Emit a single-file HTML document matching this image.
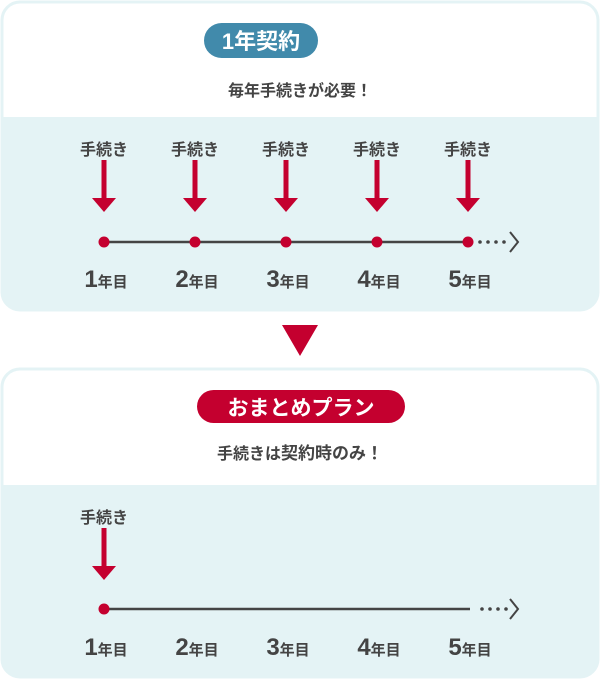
<!DOCTYPE html>
<html><head><meta charset="utf-8"><style>
html,body{margin:0;padding:0;background:#fff}
svg{display:block}
text{font-family:"Liberation Sans","Noto Sans CJK JP",sans-serif;font-weight:bold;fill:#444}
</style></head><body>
<svg width="600" height="680" viewBox="0 0 600 680" xmlns="http://www.w3.org/2000/svg">
<defs>
<g id="arr"><rect x="-2.5" y="0" width="5" height="40" fill="#c4002f"/><polygon points="-12,38 12,38 0,52" fill="#c4002f"/></g>
</defs>
<!-- box 1 -->
<rect x="2" y="2" width="596" height="308" rx="18" fill="#e4f3f5" stroke="#e4f3f5" stroke-width="3"/>
<path d="M3.5 117 V20 a16.5 16.5 0 0 1 16.5 -16.5 H580 a16.5 16.5 0 0 1 16.5 16.5 V117 Z" fill="#fff"/>
<rect x="204" y="23" width="114" height="35" rx="17.5" fill="#418aab"/>
<text x="261" y="49" font-size="22" text-anchor="middle" style="fill:#fff">1年契約</text>
<text x="300" y="96" font-size="16" text-anchor="middle" font-weight="normal">毎年手続きが必要！</text>
<g font-size="16" text-anchor="middle">
<text x="104" y="155">手続き</text><text x="195" y="155">手続き</text><text x="286" y="155">手続き</text><text x="377" y="155">手続き</text><text x="468" y="155">手続き</text>
</g>
<use href="#arr" x="104" y="160"/><use href="#arr" x="195" y="160"/><use href="#arr" x="286" y="160"/><use href="#arr" x="377" y="160"/><use href="#arr" x="468" y="160"/>
<line x1="104" y1="242" x2="468" y2="242" stroke="#444" stroke-width="2.5"/>
<g fill="#c4002f"><circle cx="104" cy="242" r="5.5"/><circle cx="195" cy="242" r="5.5"/><circle cx="286" cy="242" r="5.5"/><circle cx="377" cy="242" r="5.5"/><circle cx="468" cy="242" r="5.5"/></g>
<g fill="#444"><circle cx="480" cy="242" r="1.8"/><circle cx="488" cy="242" r="1.8"/><circle cx="496" cy="242" r="1.8"/><circle cx="504" cy="242" r="1.8"/></g>
<polyline points="510,232 518,242 510,252" fill="none" stroke="#444" stroke-width="2"/>
<g text-anchor="middle">
<text x="106" y="287"><tspan font-size="24">1</tspan><tspan font-size="15">年目</tspan></text>
<text x="197" y="287"><tspan font-size="24">2</tspan><tspan font-size="15">年目</tspan></text>
<text x="288" y="287"><tspan font-size="24">3</tspan><tspan font-size="15">年目</tspan></text>
<text x="379" y="287"><tspan font-size="24">4</tspan><tspan font-size="15">年目</tspan></text>
<text x="470" y="287"><tspan font-size="24">5</tspan><tspan font-size="15">年目</tspan></text>
</g>
<polygon points="282,325 318,325 300,356" fill="#c4002f"/>
<!-- box 2 -->
<rect x="2" y="369" width="596" height="308" rx="18" fill="#e4f3f5" stroke="#e4f3f5" stroke-width="3"/>
<path d="M3.5 485 V387 a16.5 16.5 0 0 1 16.5 -16.5 H580 a16.5 16.5 0 0 1 16.5 16.5 V485 Z" fill="#fff"/>
<rect x="197" y="390" width="208" height="33" rx="16.5" fill="#c4002f"/>
<text x="301" y="415" font-size="21" text-anchor="middle" style="fill:#fff">おまとめプラン</text>
<text x="300" y="459" font-size="16" text-anchor="middle" font-weight="normal">手続きは<tspan font-weight="bold" font-size="17">契約時のみ！</tspan></text>
<text x="104" y="523" font-size="16" text-anchor="middle">手続き</text>
<use href="#arr" x="104" y="528"/>
<line x1="104" y1="609" x2="470" y2="609" stroke="#444" stroke-width="2.5"/>
<circle cx="104" cy="609" r="5.5" fill="#c4002f"/>
<g fill="#444"><circle cx="482" cy="609" r="1.8"/><circle cx="490" cy="609" r="1.8"/><circle cx="498" cy="609" r="1.8"/><circle cx="506" cy="609" r="1.8"/></g>
<polyline points="510,599 518,609 510,619" fill="none" stroke="#444" stroke-width="2"/>
<g text-anchor="middle">
<text x="106" y="655"><tspan font-size="24">1</tspan><tspan font-size="15">年目</tspan></text>
<text x="197" y="655"><tspan font-size="24">2</tspan><tspan font-size="15">年目</tspan></text>
<text x="288" y="655"><tspan font-size="24">3</tspan><tspan font-size="15">年目</tspan></text>
<text x="379" y="655"><tspan font-size="24">4</tspan><tspan font-size="15">年目</tspan></text>
<text x="470" y="655"><tspan font-size="24">5</tspan><tspan font-size="15">年目</tspan></text>
</g>
</svg>
</body></html>
